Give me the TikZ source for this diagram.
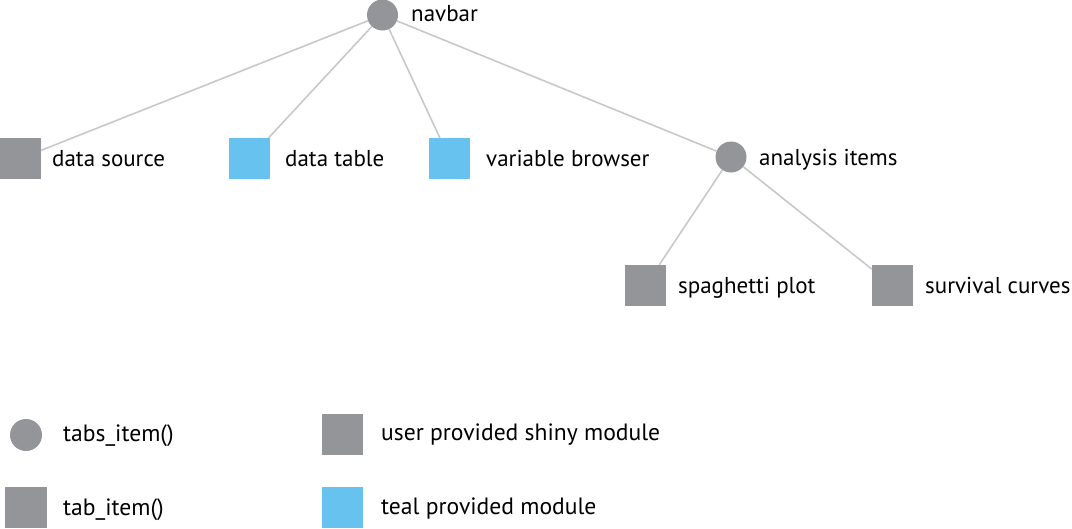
\documentclass[tikz,border=0pt]{standalone}
\usepackage{fontspec}
\setmainfont{PT Sans}
\definecolor{nodegray}{HTML}{939598}
\definecolor{tealblue}{HTML}{67C2EF}
\definecolor{linegray}{HTML}{C8C8C8}
\begin{document}
\begin{tikzpicture}[x=1pt,y=-1pt,
  tabs/.style={circle,fill=nodegray,draw=none,minimum size=31pt,inner sep=0pt},
  usermod/.style={rectangle,fill=nodegray,draw=none,minimum size=41pt,inner sep=0pt},
  tealmod/.style={rectangle,fill=tealblue,draw=none,minimum size=41pt,inner sep=0pt},
  lbl/.style={anchor=base west,inner sep=0pt,font=\fontsize{23}{27}\selectfont,text=black},
  leglbl/.style={lbl,font=\fontsize{23.6}{28}\selectfont},
  conn/.style={draw=linegray,line width=1.6pt}]
\useasboundingbox (0,0) rectangle (1072,528);
% tree nodes
\node[tabs] (navbar) at (382.5,15) {};
\node[usermod] (ds) at (20.5,158.5) {};
\node[tealmod] (dt) at (249.5,158.5) {};
\node[tealmod] (vb) at (449.5,158.5) {};
\node[tabs] (ai) at (731,157) {};
\node[usermod] (sp) at (645.5,285.5) {};
\node[usermod] (sc) at (892.5,285.5) {};
% labels
\node[lbl] (lnavbar) at (411,21) {navbar};
\node[lbl] (lds) at (52,166) {data source};
\node[lbl] (ldt) at (285,166) {data table};
\node[lbl] (lvb) at (486,166) {variable browser};
\node[lbl] (lai) at (759,165) {analysis items};
\node[lbl] (lsp) at (678,293) {spaghetti plot};
\node[lbl] (lsc) at (925,293) {survival curves};
% connectors
\draw[conn] (navbar) -- (ds);
\draw[conn] (navbar) -- (dt);
\draw[conn] (navbar) -- (vb);
\draw[conn] (navbar) -- (ai);
\draw[conn] (ai) -- (sp);
\draw[conn] (ai) -- (sc);
% legend
\node[tabs, minimum size=32pt] (legtabs) at (26,435) {};
\node[leglbl] (llegtabs) at (63,441) {tabs\_item()};
\node[usermod] (leguser) at (342.5,434) {};
\node[leglbl] (lleguser) at (381,440) {user provided shiny module};
\node[usermod, minimum width=42pt] (legtab) at (26,507.5) {};
\node[leglbl] (llegtab) at (63,515) {tab\_item()};
\node[tealmod] (legteal) at (342.5,507.5) {};
\node[leglbl] (llegteal) at (381,514) {teal provided module};
\end{tikzpicture}
\end{document}
